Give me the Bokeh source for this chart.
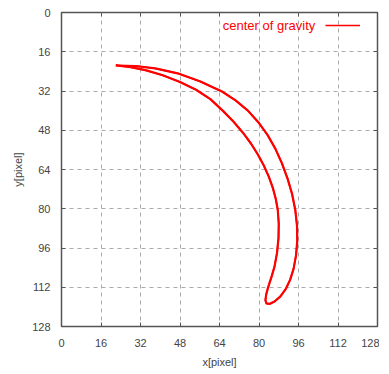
from bokeh.plotting import figure
from bokeh.models import Range1d, FixedTicker, LinearAxis, Legend, LegendItem, Label
from bokeh.embed import file_html
from bokeh.resources import INLINE

# data (x, y in pixel units; y axis is inverted)
outer_x = [22, 30, 38, 47, 56, 65, 70.5, 75.5, 79.8, 83.5, 86.6, 89.3, 91.6, 93.4, 94.7, 95.4, 95.5, 95, 94, 92.6, 90.8, 88.6, 86.3, 84.2, 83]
outer_y = [21.6, 21.8, 22.8, 24.8, 28, 32.2, 35.8, 40, 44.8, 50, 55.5, 61.5, 67.8, 74, 80.5, 87, 93, 99, 104.5, 109, 112.8, 115.8, 117.8, 118.8, 118.6]
inner_x = [82.6, 82.9, 83.7, 85, 86.3, 87.3, 87.9, 88, 87.6, 86.8, 85.6, 84, 82, 79.6, 76.8, 73.5, 69.7, 65.3, 60.3, 54.5, 48, 41, 34, 27.5, 22]
inner_y = [117.3, 115, 112, 108, 103.5, 98, 92, 86, 80.5, 76, 71.5, 67, 62.5, 58, 53.5, 49, 44.5, 40, 35.3, 31.5, 28.3, 25.6, 23.5, 22.2, 21.6]
ticks = [0, 16, 32, 48, 64, 80, 96, 112, 128]
series_name = "center of gravity"

xs = outer_x + inner_x
ys = outer_y + inner_y

FONT = "Liberation Sans"

p = figure(frame_width=316, frame_height=314, output_backend="svg", toolbar_location=None,
           x_range=Range1d(0, 128), y_range=Range1d(128, 0),
           min_border_left=61, min_border_top=12, min_border_right=2, min_border_bottom=42)

r_key = p.line(xs, ys, line_color="#ff0000", line_width=1.6)
p.line(xs, ys, line_color="#ff0000", line_width=2.2)

p.outline_line_color = "#555555"
p.outline_line_width = 1.5
p.background_fill_color = "white"
p.border_fill_color = "white"

for ax in p.xaxis + p.yaxis:
    ax.ticker = FixedTicker(ticks=ticks)
    ax.major_tick_in = 4
    ax.major_tick_out = 0
    ax.minor_tick_line_color = None
    ax.axis_line_color = "#555555"
    ax.major_tick_line_color = "#555555"
    ax.major_label_text_font = FONT
    ax.major_label_text_font_size = "11px"
    ax.major_label_text_color = "#444444"
    ax.axis_label_text_font = FONT
    ax.axis_label_text_font_size = "11px"
    ax.axis_label_text_font_style = "normal"
    ax.axis_label_text_color = "#444444"

p.xaxis.axis_label = "x[pixel]"
p.yaxis.axis_label = "y[pixel]"
p.xaxis.major_label_standoff = 12
p.xaxis.axis_label_standoff = 6
p.yaxis.major_label_standoff = 11
p.yaxis.axis_label_standoff = 5

# mirrored ticks on top and right
for side in ("above", "right"):
    ax = LinearAxis(ticker=FixedTicker(ticks=ticks))
    ax.major_tick_in = 4
    ax.major_tick_out = 0
    ax.minor_tick_line_color = None
    ax.axis_line_color = None
    ax.major_tick_line_color = "#555555"
    ax.major_label_overrides = {t: "" for t in ticks}
    ax.major_label_standoff = 0
    p.add_layout(ax, side)

for g in (p.xgrid[0], p.ygrid[0]):
    g.ticker = FixedTicker(ticks=ticks)
    g.grid_line_color = "#aaaaaa"
    g.grid_line_dash = "4 4"
    g.grid_line_width = 1

legend = Legend(items=[LegendItem(label=" ", renderers=[r_key])], location=(264, 296),
                padding=0, margin=0, spacing=0, glyph_width=35, glyph_height=10,
                label_width=0, label_height=10, label_standoff=0,
                background_fill_alpha=0, border_line_color=None,
                label_text_font_size="1px")
p.add_layout(legend)

p.add_layout(Label(x=102.8, y=5.3, text=series_name, text_align="right", text_baseline="middle",
                   text_color="#ff0000", text_font=FONT, text_font_size="13px"))

open("out.html", "w").write(file_html(p, INLINE))
